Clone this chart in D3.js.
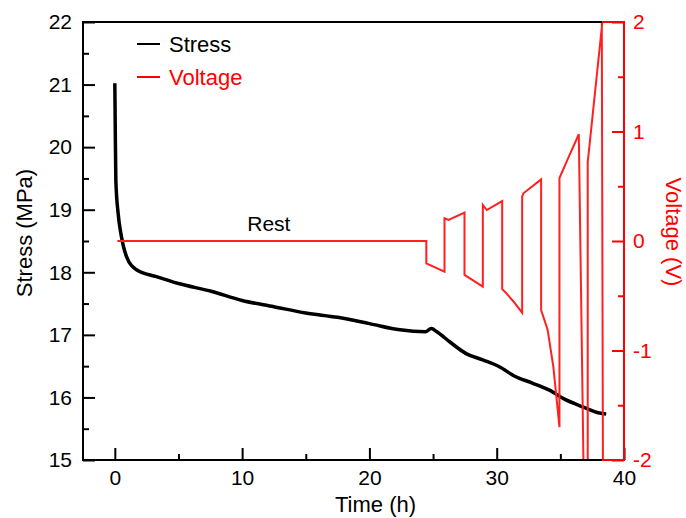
<!DOCTYPE html>
<html>
<head>
<meta charset="utf-8">
<script src="https://cdn.jsdelivr.net/npm/d3@7"></script>
<style>
  body { margin: 0; background: #fff; }
  text { font-family: "Liberation Sans", Arial, sans-serif; }
</style>
</head>
<body>
<svg id="chart"></svg>
<script>
// stress (MPa) vs time (h)
const stressTime  = [0, 0.02, 0.08, 0.26, 0.52, 0.92, 1.7, 3.27, 5, 7.5, 10, 12.5, 15, 17.5, 20, 22.4, 24.4, 24.86, 25.3, 26.3, 27.6, 28.9, 30.2, 31.5, 32.8, 34.1, 35.45, 36.76, 38.07, 38.6];
const stressValue = [21.02, 20.6, 19.47, 18.94, 18.57, 18.25, 18.04, 17.93, 17.82, 17.7, 17.55, 17.45, 17.35, 17.28, 17.18, 17.08, 17.05, 17.1, 17.05, 16.89, 16.7, 16.6, 16.49, 16.33, 16.23, 16.12, 15.96, 15.85, 15.75, 15.735];

// voltage (V) vs time (h)
const voltTime  = [0.2, 24.47, 24.47, 25.9, 25.9, 26.22, 27.47, 27.47, 28.91, 28.91, 29.22, 30.43, 30.43, 30.7, 31.3, 32.0, 32.0, 32.1, 33.49, 33.49, 34.0, 34.45, 34.93, 34.93, 35.7, 36.45, 36.85, 37.15, 37.15, 37.28, 38.3, 38.25, 38.35];
const voltValue = [0, 0, -0.204, -0.28, 0.207, 0.192, 0.259, -0.31, -0.417, 0.329, 0.283, 0.365, -0.44, -0.47, -0.55, -0.655, 0.405, 0.436, 0.563, -0.63, -0.81, -1.15, -1.7, 0.575, 0.78, 0.975, -2.3, -2.3, 0.724, 0.861, 2.0, 2.3, -2.3];

const xTicks = [0, 10, 20, 30, 40];
const yLeftTicks = [15, 16, 17, 18, 19, 20, 21, 22];
const yRightTicks = [-2, -1, 0, 1, 2];
const legendNames = ["Stress", "Voltage"];
const legendColors = ["#000", "#ff0000"];

const width = 686, height = 518;
const margin = { top: 22, right: 62, bottom: 58, left: 83 };

const svg = d3.select('#chart')
    .attr('width', width)
    .attr('height', height);

const x = d3.scaleLinear().domain([-2.5, 40]).range([margin.left, width - margin.right]);
const yL = d3.scaleLinear().domain([15, 22]).range([height - margin.bottom, margin.top]);
const yR = d3.scaleLinear().domain([-2, 2]).range([height - margin.bottom, margin.top]);

const x0 = x.range()[0], x1 = x.range()[1];
const yTop = yL.range()[1], yBot = yL.range()[0];

svg.append('clipPath').attr('id', 'clip')
    .append('rect')
    .attr('x', x0).attr('y', yTop)
    .attr('width', x1 - x0).attr('height', yBot - yTop);

// stress curve
const stressData = stressTime.map((t, i) => ({ t: t, v: stressValue[i] }));
svg.append('path')
    .datum(stressData)
    .attr('fill', 'none')
    .attr('stroke', '#000')
    .attr('stroke-width', 3.5)
    .attr('stroke-linejoin', 'round')
    .attr('d', d3.line().curve(d3.curveMonotoneX).x(d => x(d.t)).y(d => yL(d.v)));

// voltage curve
const voltData = voltTime.map((t, i) => ({ t: t, v: voltValue[i] }));
svg.append('path')
    .datum(voltData)
    .attr('clip-path', 'url(#clip)')
    .attr('fill', 'none')
    .attr('stroke', '#ff2020')
    .attr('stroke-width', 2)
    .attr('d', d3.line().x(d => x(d.t)).y(d => yR(d.v)));

// axes (inward ticks)
const fmt = d => String(d);
function styleAxis(g, color) {
    g.select('.domain').remove();
    g.selectAll('line').attr('stroke', color).attr('stroke-width', 2);
    g.selectAll('text').attr('fill', color).style('font-size', '21px')
        .style('font-family', '"Liberation Sans", Arial, sans-serif');
}

svg.append('g').attr('transform', `translate(0,${yBot})`)
    .call(d3.axisBottom(x).tickValues(xTicks).tickFormat(fmt).tickSize(-12).tickPadding(10))
    .call(g => styleAxis(g, '#000'));
svg.append('g').attr('transform', `translate(0,${yBot})`)
    .call(d3.axisBottom(x).tickValues(xTicks.slice(0, -1).map(d => d + 5)).tickFormat('').tickSize(-6))
    .call(g => styleAxis(g, '#000'));

svg.append('g').attr('transform', `translate(${x0},0)`)
    .call(d3.axisLeft(yL).tickValues(yLeftTicks).tickFormat(fmt).tickSize(-12).tickPadding(11))
    .call(g => styleAxis(g, '#000'));
svg.append('g').attr('transform', `translate(${x0},0)`)
    .call(d3.axisLeft(yL).tickValues(yLeftTicks.slice(0, -1).map(d => d + 0.5)).tickFormat('').tickSize(-6))
    .call(g => styleAxis(g, '#000'));

svg.append('g').attr('transform', `translate(${x1},0)`)
    .call(d3.axisRight(yR).tickValues(yRightTicks).tickFormat(fmt).tickSize(-12).tickPadding(9))
    .call(g => styleAxis(g, '#ff0000'));
svg.append('g').attr('transform', `translate(${x1},0)`)
    .call(d3.axisRight(yR).tickValues(yRightTicks.slice(0, -1).map(d => d + 0.5)).tickFormat('').tickSize(-6))
    .call(g => styleAxis(g, '#ff0000'));

// frame
const xSplit = x(38.3);
const frame = svg.append('g').attr('stroke-width', 2);
frame.append('path').attr('stroke', '#000').attr('fill', 'none')
    .attr('d', `M${xSplit},${yTop}H${x0}V${yBot}H${xSplit}`);
frame.append('path').attr('stroke', '#ff0000').attr('fill', 'none')
    .attr('d', `M${xSplit},${yTop}H${x1}V${yBot}H${xSplit}`);

// axis titles
svg.append('text')
    .attr('x', (x0 + x1) / 2 + 22).attr('y', 512)
    .attr('text-anchor', 'middle').style('font-size', '22px')
    .text('Time (h)');
svg.append('text')
    .attr('transform', `translate(32,${(yTop + yBot) / 2 - 8}) rotate(-90)`)
    .attr('text-anchor', 'middle').style('font-size', '22px')
    .text('Stress (MPa)');
svg.append('text')
    .attr('transform', `translate(666,${(yTop + yBot) / 2 - 9}) rotate(90)`)
    .attr('text-anchor', 'middle').style('font-size', '22px')
    .attr('fill', '#ff0000')
    .text('Voltage (V)');

// annotation
svg.append('text')
    .attr('x', x(12.1)).attr('y', yR(0) - 10)
    .attr('text-anchor', 'middle').style('font-size', '21px')
    .text('Rest');

// legend
const legend = svg.append('g');
legendNames.forEach((name, i) => {
    const ly = 44 + i * 33;
    legend.append('line')
        .attr('x1', 137).attr('x2', 160).attr('y1', ly).attr('y2', ly)
        .attr('stroke', legendColors[i]).attr('stroke-width', 2);
    legend.append('text')
        .attr('x', 169).attr('y', ly + 8)
        .attr('fill', legendColors[i]).style('font-size', '22px')
        .text(name);
});
</script>
</body>
</html>
